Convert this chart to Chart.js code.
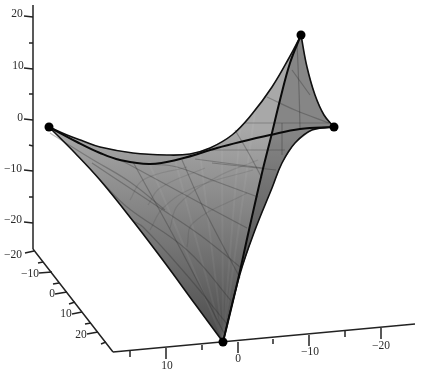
<!DOCTYPE html>
<html>
<head>
<meta charset="utf-8">
<style>
  html, body { margin: 0; padding: 0; background: #fff; }
  canvas { display: block; }
</style>
<script src="https://cdn.jsdelivr.net/npm/chart.js@4/dist/chart.umd.min.js"></script>
</head>
<body>
<canvas id="chartSurface" width="424" height="377"></canvas>
<script>
  var corners = [[49, 127], [301, 35], [334, 127], [223, 342]];

  var edgeTop = [[49, 127], [67, 135], [83, 141], [100, 147], [133, 153], [167, 155], [190, 154], [210, 148], [232, 135], [252, 114], [272, 87], [289, 58], [301, 35]];
  var edgeRight = [[301, 35], [307, 67], [315, 95], [324, 115], [334, 127]];
  var edgeLowerRight = [[334, 127], [312, 130], [295, 143], [282, 163], [272, 188], [255, 230], [240, 274], [223, 342]];
  var edgeLeft = [[223, 342], [195, 304], [165, 263], [133, 221], [100, 180], [75, 153], [49, 127]];
  var curveAcross = [[49, 127], [77, 142], [100, 153], [120, 160], [150, 164], [180, 159], [217, 148], [240, 142], [270, 135], [300, 129], [334, 127]];
  var curveDown = [[301, 35], [290, 63], [280, 100], [271, 137], [262, 173], [249, 230], [237, 284], [223, 342]];

  var webLines = [
    [[118, 159], [130, 165], [200, 203], [247, 228]],
    [[92, 163], [110, 175], [160, 208], [200, 235], [240, 267]],
    [[100, 180], [127, 207], [187, 250], [233, 303]],
    [[133, 221], [143, 227], [185, 273], [228, 325]],
    [[150, 164], [177, 167], [212, 180], [258, 197]],
    [[195, 159], [263, 168]],
    [[212, 163], [276, 170]],
    [[133, 162], [180, 248], [225, 335]],
    [[182, 160], [202, 205], [240, 278]],
    [[235, 130], [248, 152], [262, 178]],
    [[245, 123], [290, 123], [329, 123]],
    [[212, 150], [285, 150]],
    [[282, 123], [282, 155]],
    [[267, 97], [295, 110], [329, 123]],
    [[292, 70], [310, 95]],
    [[297, 43], [299, 90], [300, 128]],
    [[50, 133], [90, 158], [130, 182], [165, 210]]
  ];
  var faintLines = [
    [[150, 230], [163, 208], [193, 188], [253, 170]],
    [[130, 200], [143, 180], [187, 167]],
    [[187, 247], [193, 223], [247, 193]],
    [[170, 228], [178, 205], [215, 178], [258, 160]],
    [[148, 205], [160, 188], [205, 168]]
  ];
  // pale stripes running up from the lowest corner
  var rulings = [
    [[223, 340], [150, 165]],
    [[223, 340], [175, 160]],
    [[223, 340], [200, 153]],
    [[223, 340], [222, 148]],
    [[223, 340], [240, 130]],
    [[223, 340], [255, 112]]
  ];

  var zAxis = [[33, 5], [33, 249]];
  var yAxis = [[33, 249], [113, 352]];
  var xAxis = [[113, 352], [415, 324]];

  var zTicks = [
    [[24, 16], [33, 17]], [[29, 43], [33, 43]], [[24, 68], [33, 69]], [[29, 94], [33, 94]], [[24, 119], [33, 120]],
    [[29, 145], [33, 146]], [[24, 170], [33, 171]], [[29, 197], [33, 197]], [[24, 222], [33, 223]]
  ];
  var yTicks = [
    [[25, 253], [34, 251]], [[38, 263], [43, 262]], [[39, 273], [52, 272]], [[53, 284], [59, 283]], [[55, 294], [67, 292]],
    [[69, 304], [75, 302]], [[72, 314], [82, 312]], [[85, 324], [91, 323]], [[87, 334], [98, 332]], [[101, 344], [106, 342]]
  ];
  var xTicks = [
    [[130, 351], [130, 357]], [[166, 348], [166, 359]], [[202, 345], [202, 350]], [[238, 342], [238, 353]],
    [[273, 339], [273, 344]], [[309, 335], [309, 346]], [[345, 331], [345, 337]], [[381, 328], [381, 339]]
  ];

  var zLabels = ['20', '10', '0', '\u221210', '\u221220'];
  var zLabelAt = [[17, 14], [18, 66], [20, 118], [13, 169], [13, 220]];
  var yLabels = ['\u221220', '\u221210', '0', '10', '20'];
  var yLabelAt = [[13, 255], [30, 274], [52, 294], [66, 314], [81, 335]];
  var xLabels = ['10', '0', '\u221210', '\u221220'];
  var xLabelAt = [[167, 366], [238, 359], [310, 352], [381, 346]];

  function pts(list) {
    return list.map(function (p) { return { x: p[0], y: p[1] }; });
  }

  function stroke(list, width, color) {
    return { data: pts(list), showLine: true, borderColor: color, borderWidth: width, pointRadius: 0, tension: 0.4 };
  }

  function surfaceFill(top, bottom) {
    return function (context) {
      var h = context.chart.height;
      var g = context.chart.ctx.createLinearGradient(0, h * 130 / 377, 0, h * 342 / 377);
      g.addColorStop(0, top);
      g.addColorStop(1, bottom);
      return g;
    };
  }

  var list = [];

  // surface, then the darker strip right of the long curve
  list.push({
    data: pts(edgeTop.concat(edgeRight, edgeLowerRight, edgeLeft)),
    showLine: true, fill: 'shape', borderWidth: 0, pointRadius: 0, tension: 0,
    backgroundColor: surfaceFill('#a8a8a8', '#4a4a4a')
  });
  list.push({
    data: pts(edgeRight.concat(edgeLowerRight, curveDown.slice().reverse())),
    showLine: true, fill: 'shape', borderWidth: 0, pointRadius: 0, tension: 0,
    backgroundColor: 'rgba(0, 0, 0, 0.2)'
  });

  rulings.forEach(function (l) { list.push(stroke(l, 2, 'rgba(255, 255, 255, 0.05)')); });
  faintLines.forEach(function (l) { list.push(stroke(l, 1.2, 'rgba(40, 40, 40, 0.13)')); });
  webLines.forEach(function (l) { list.push(stroke(l, 1.2, 'rgba(40, 40, 40, 0.3)')); });

  [edgeTop, edgeRight, edgeLowerRight, edgeLeft].forEach(function (l) { list.push(stroke(l, 1.6, '#111')); });
  [curveAcross, curveDown].forEach(function (l) { list.push(stroke(l, 2, '#0a0a0a')); });

  [zAxis, yAxis, xAxis].forEach(function (l) { list.push(stroke(l, 1.5, '#222')); });
  zTicks.concat(yTicks, xTicks).forEach(function (l) { list.push(stroke(l, 1.5, '#222')); });

  list.push({ data: pts(corners), pointRadius: 4.5, pointBackgroundColor: '#000', pointBorderWidth: 0, showLine: false });

  list.forEach(function (d, i) { d.order = -i; });

  var tickText = {
    id: 'tickText',
    afterDraw: function (chart) {
      var c = chart.ctx;
      function put(labels, at) {
        labels.forEach(function (t, i) {
          c.fillText(t, chart.scales.x.getPixelForValue(at[i][0]), chart.scales.y.getPixelForValue(at[i][1]));
        });
      }
      c.save();
      c.font = '11.5px "Liberation Serif"';
      c.fillStyle = '#2a2a2a';
      c.textAlign = 'center';
      c.textBaseline = 'middle';
      put(zLabels, zLabelAt);
      put(yLabels, yLabelAt);
      put(xLabels, xLabelAt);
      c.restore();
    }
  };

  new Chart(document.getElementById('chartSurface'), {
    type: 'scatter',
    data: { datasets: list },
    plugins: [tickText],
    options: {
      responsive: false,
      animation: false,
      layout: { padding: 0, autoPadding: false },
      scales: {
        x: { display: false, min: 0, max: 424 },
        y: { display: false, min: 0, max: 377, reverse: true }
      },
      plugins: {
        legend: { display: false },
        tooltip: { enabled: false }
      }
    }
  });
</script>
</body>
</html>
